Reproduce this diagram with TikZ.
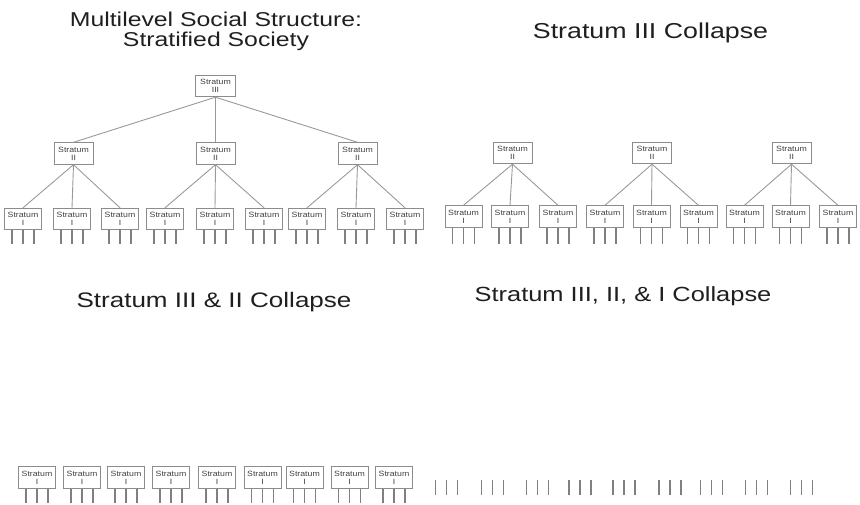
\documentclass[tikz,border=0pt]{standalone}
\usepackage{fontspec}
\setmainfont{Liberation Sans}
\newfontfamily\titlefont[FakeStretch=1.24]{Liberation Sans}
\newfontfamily\boxfont[FakeStretch=1.15]{Liberation Sans}
\begin{document}
\begin{tikzpicture}[x=1pt,y=-1pt,
  title/.style={font=\titlefont\fontsize{#1}{20.5}\selectfont, text=black!88, align=center, inner sep=0pt},
  title/.default=21,
  stratbox/.style={draw=black!45, line width=0.9pt, fill=white, minimum width=37pt, minimum height=21.5pt,
    inner sep=0pt, align=center, text=black!75, font=\boxfont\fontsize{7.6}{8}\selectfont},
  link/.style={draw=black!40, line width=0.9pt},
  tick/.style={draw=black!50, line width=1.1pt}]
\useasboundingbox (0,0) rectangle (860,505);

% tick marks hanging below a box
\newcommand\legs[2]{%
  \foreach \dx in {-11,0,11}{\draw[tick] ([xshift=\dx pt]#1.south) -- ++(0,#2);}}

% ---------------- Stratified society ----------------
\node[title=20, anchor=base] (t1) at (216,26.7) {Multilevel Social Structure:};
\node[title=20, anchor=base] (t1b) at (216,47) {Stratified Society};

\node[stratbox, minimum width=40pt] (s3) at (215.5,86) {Stratum\\III};
\foreach \n/\x in {a/73.5,b/215.5,c/357.5}
  \node[stratbox, minimum width=39pt] (s2\n) at (\x,153.5) {Stratum\\II};
\foreach \n/\x in {1/23,2/72,3/120,4/165,5/215,6/264,7/307,8/356,9/405}{
  \node[stratbox] (s1\n) at (\x,219) {Stratum\\I};
  \legs{s1\n}{14}}
\foreach \n in {a,b,c} \draw[link] (s3.south) -- (s2\n.north);
\foreach \p/\c in {a/1,a/2,a/3,b/4,b/5,b/6,c/7,c/8,c/9}
  \draw[link] (s2\p.south) -- (s1\c.north);

% ---------------- Stratum III collapse ----------------
\node[title=21.6, anchor=base] (t2) at (650.5,38.3) {Stratum III Collapse};
\foreach \n/\x in {a/512.5,b/652,c/791.5}
  \node[stratbox, minimum width=39pt] (r2\n) at (\x,153) {Stratum\\II};
\foreach \n/\x in {1/463.5,2/510,3/558,4/605,5/651.5,6/698.5,7/744.5,8/790.5,9/838}{
  \node[stratbox] (r1\n) at (\x,216.5) {Stratum\\I};
  \legs{r1\n}{16}}
\foreach \p/\c in {a/1,a/2,a/3,b/4,b/5,b/6,c/7,c/8,c/9}
  \draw[link] (r2\p.south) -- (r1\c.north);

% ---------------- Stratum III & II collapse ----------------
\node[title, anchor=base] (t3) at (214,307.3) {Stratum III \& II Collapse};
\foreach \n/\x in {1/37,2/82,3/126,4/171,5/217,6/262.5,7/304.5,8/349.5,9/394}{
  \node[stratbox] (q1\n) at (\x,477.5) {Stratum\\I};
  \legs{q1\n}{14}}

% ---------------- Stratum III, II & I collapse ----------------
\node[title=20.5, anchor=base] (t4) at (623,301.7) {Stratum III, II, \& I Collapse};
\foreach \n/\x in {1/446.7,2/492.7,3/537.3,4/580,5/624,6/670,7/711.7,8/756.7,9/801.7}{
  \coordinate (p\n) at (\x,480);
  \foreach \dx in {-11,0,11}{\draw[tick] ([xshift=\dx pt]p\n) -- ++(0,15);}}
\end{tikzpicture}
\end{document}
